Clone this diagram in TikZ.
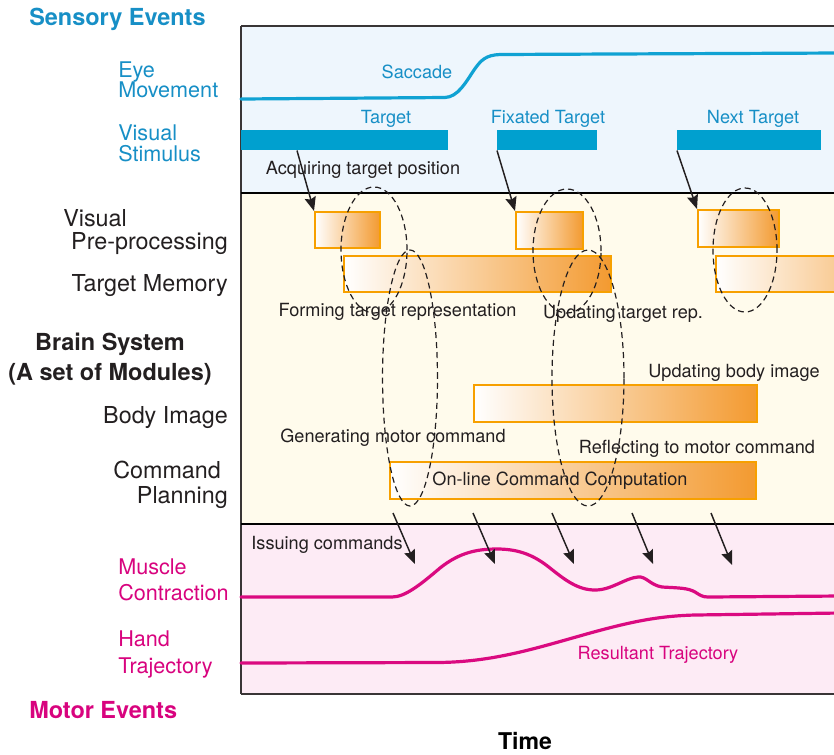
\documentclass[tikz,border=0pt]{standalone}
\usepackage{fontspec}
\setmainfont{TeX Gyre Heros}
\usetikzlibrary{arrows.meta}

\definecolor{skyBg}{HTML}{EEF6FD}
\definecolor{creamBg}{HTML}{FFFBEC}
\definecolor{pinkBg}{HTML}{FDEBF5}
\definecolor{barBlue}{HTML}{00A0CF}
\definecolor{curveBlue}{HTML}{10A2D3}
\definecolor{textBlue}{HTML}{178FC6}
\definecolor{magentaC}{HTML}{DA0A80}
\definecolor{textPink}{HTML}{D8037E}
\definecolor{orangeF}{HTML}{F39A30}
\definecolor{orangeD}{HTML}{F7A000}
\definecolor{ink}{HTML}{231F20}

\begin{document}
\begin{tikzpicture}[x=0.75pt,y=-0.75pt,
  wh/.style 2 args={minimum width=#1*0.75pt, minimum height=#2*0.75pt},
  bar/.style={fill=barBlue, inner sep=0pt, anchor=north west},
  box/.style={draw=orangeD, line width=1.3pt, inner sep=0pt, anchor=north west},
  txt/.style={inner sep=0pt, anchor=base, text=ink, font=\fontsize{13.6}{16}\selectfont},
  sidek/.style={inner sep=0pt, text=ink, font=\fontsize{17.5}{20}\selectfont},
  sideb/.style={inner sep=0pt, anchor=base west, text=textBlue, font=\fontsize{16.2}{19}\selectfont},
  sidep/.style={inner sep=0pt, anchor=base west, text=textPink, font=\fontsize{16.2}{19}\selectfont},
  head/.style={inner sep=0pt, font=\bfseries\fontsize{17.6}{20}\selectfont},
  arr/.style={draw=ink, line width=1.1pt, -{Stealth[length=10.5pt,width=8.5pt,inset=1.5pt]}},
  ring/.style={draw=ink, line width=0.9pt, dash pattern=on 4.5pt off 3pt},
  curve/.style={line width=2.4pt, line cap=round}
]
\useasboundingbox (0,0) rectangle (834,754);

% ---- panel backgrounds ----
\fill[skyBg]   (241,26)  rectangle (840,193);
\fill[creamBg] (241,193) rectangle (840,524);
\fill[pinkBg]  (241,524) rectangle (840,694);

% ---- frame and separators ----
\draw[line width=1.2pt, draw=ink!90] (241,26) -- (840,26);
\draw[line width=0.9pt, draw=ink!90] (241,26) -- (241,694);
\draw[line width=1.6pt, draw=black] (241,193) -- (840,193);
\draw[line width=1.6pt, draw=black] (241,524) -- (840,524);
\draw[line width=1.2pt, draw=ink!90] (241,694) -- (840,694);

% ---- sensory events ----
\draw[curve, draw=curveBlue] (241,99) -- (445,97.5)
  .. controls (458,97) and (466,82) .. (474,70)
  .. controls (481,60) and (486,55) .. (500,54.5) -- (840,53);
\node[txt, text=textBlue] (sacc) at (417,78.5) {Saccade};

\node[bar, wh={207}{20}] (bar1) at (241,130) {};
\node[bar, wh={100}{20}] (bar2) at (497,130) {};
\node[bar, wh={144}{20}] (bar3) at (677,130) {};
\node[txt, text=textBlue] (tgt)  at (386,123.5) {Target};
\node[txt, text=textBlue] (ftgt) at (548,123.5) {Fixated Target};
\node[txt, text=textBlue] (ntgt) at (753,123) {Next Target};
\node[txt] (acq) at (363,174.5) {Acquiring target position};

% ---- brain modules ----
\node[box, wh={65}{36}, left color=white, right color=orangeF] (vpp1) at (314,211) {};
\node[box, wh={67}{37}, left color=white, right color=orangeF] (vpp2) at (515,211) {};
\node[box, wh={81}{37}, left color=white, right color=orangeF] (vpp3) at (697,209) {};

\node[box, wh={267}{36}, left color=white, middle color=orangeF!35, right color=orangeF] (tm1) at (343,255) {};
\node[box, wh={130}{36}, left color=white, middle color=orangeF!8, right color=orangeF!55] (tm3) at (715,255) {};

\node[box, wh={283}{37}, left color=white, middle color=orangeF!25, right color=orangeF] (body) at (473,384) {};
\node[box, wh={366}{37}, left color=white, middle color=orangeF!62, right color=orangeF] (cmd) at (389,461) {};

\node[txt] (form) at (397.5,316.5) {Forming target representation};
\node[txt] (updt) at (623,318.5) {Updating target rep.};
\node[txt] (updb) at (734,377.5) {Updating body image};
\node[txt] (genm) at (393,442.5) {Generating motor command};
\node[txt] (refl) at (697,453.5) {Reflecting to motor command};
\node[txt] (onl)  at (560,485.5) {On-line Command Computation};

% acquisition arrows from the stimuli to pre-processing
\draw[arr] ([xshift=42pt]bar1.south west) -- (vpp1.north west);
\draw[arr] (bar2.south west) -- (vpp2.north west);
\draw[arr] (bar3.south west) -- (vpp3.north west);

% ---- motor events ----
\draw[curve, draw=magentaC] (241,597) -- (392,597)
  .. controls (405,597) and (420,585) .. (440,568)
  .. controls (460,552) and (478,549) .. (497,549)
  .. controls (520,549) and (535,556) .. (550,568)
  .. controls (565,580) and (578,590) .. (595,590)
  .. controls (612,590) and (625,578) .. (638,577)
  .. controls (646,576) and (650,585) .. (662,587)
  .. controls (680,588) and (688,588) .. (695,592)
  .. controls (700,595) and (702,597) .. (708,597) -- (840,596);
\draw[curve, draw=magentaC] (241,663) -- (438,662.5)
  .. controls (490,662) and (530,650) .. (576,637)
  .. controls (625,623) and (655,616) .. (695,615) -- (840,613);

\node[txt] (issu) at (327,549.5) {Issuing commands};
\node[txt, text=textPink] (rtraj) at (658,659.5) {Resultant Trajectory};

% command issuing arrows
\coordinate (s1) at (393,513); \coordinate (e1) at (415,564);
\coordinate (s2) at (473,513); \coordinate (e2) at (495,564);
\coordinate (s3) at (552,513); \coordinate (e3) at (574,564);
\coordinate (s4) at (632,513); \coordinate (e4) at (653,564);
\coordinate (s5) at (711,513); \coordinate (e5) at (732,565);
\foreach \i in {1,...,5} \draw[arr] (s\i) -- (e\i);

% ---- dashed groupings ----
\draw[ring] (374,250) ellipse [x radius=24.75pt, y radius=47.25pt];
\draw[ring] (410,378) ellipse [x radius=20.6pt, y radius=96pt];
\draw[ring] (567,251) ellipse [x radius=25.5pt, y radius=46.5pt];
\draw[ring] (588,378) ellipse [x radius=27pt, y radius=96pt];
\draw[ring] (745,250) ellipse [x radius=24pt, y radius=46.5pt];

% ---- side labels ----
\node[head, anchor=base west, text=textBlue] (sens) at (29,25.5) {Sensory Events};
\node[sideb] (eye1) at (118,77.6) {Eye};
\node[sideb] (eye2) at (118,97.2) {Movement};
\node[sideb] (vis1) at (118,140.7) {Visual};
\node[sideb] (vis2) at (118,161) {Stimulus};

\node[sidek, anchor=base west] (vpl1) at (63,226.4) {Visual};
\node[sidek, anchor=base east] (vpl2) at (228,249.4) {Pre-processing};
\node[sidek, anchor=base east] (tml)  at (228,291.4) {Target Memory};
\node[head, anchor=base, text=ink] (brn1) at (110,350) {Brain System};
\node[head, anchor=base, text=ink] (brn2) at (110,380) {(A set of Modules)};
\node[sidek, anchor=base east] (bil)  at (228,423.4) {Body Image};
\node[sidek, anchor=base west] (cpl1) at (113,478.4) {Command};
\node[sidek, anchor=base east] (cpl2) at (228,503.4) {Planning};

\node[sidep] (mus1) at (118,574.7) {Muscle};
\node[sidep] (mus2) at (118,600.7) {Contraction};
\node[sidep] (hnd1) at (118,646.7) {Hand};
\node[sidep] (hnd2) at (118,673) {Trajectory};
\node[head, anchor=base west, text=textPink] (mot) at (29,718.4) {Motor Events};

\node[head, anchor=base, text=black, font=\bfseries\fontsize{17.3}{20}\selectfont] (time) at (525,749.5) {Time};
\end{tikzpicture}
\end{document}
